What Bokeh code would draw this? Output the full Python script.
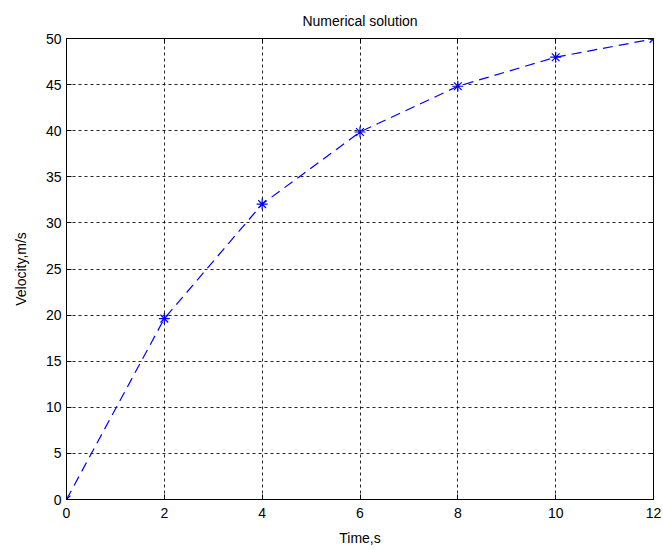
from bokeh.plotting import figure
from bokeh.models import LinearAxis, FixedTicker, Range1d
from bokeh.embed import file_html
from bokeh.resources import INLINE

time_s = [0, 2, 4, 6, 8, 10, 12]
velocity = [0, 19.62, 32.04, 39.86, 44.82, 47.97, 49.96]
x_ticks = [0, 2, 4, 6, 8, 10, 12]
y_ticks = [0, 5, 10, 15, 20, 25, 30, 35, 40, 45, 50]

FONT = "Liberation Sans"

p = figure(width=663, height=550, output_backend="svg", toolbar_location=None,
           x_range=Range1d(0, 12), y_range=Range1d(0, 50),
           min_border_left=66, min_border_right=10, min_border_top=38, min_border_bottom=51,
           title="Numerical solution")
p.title.text_font = FONT
p.title.text_font_size = "14px"
p.title.text_font_style = "normal"
p.title.align = "center"
p.title.text_color = "#000000"
p.title.offset = 0
p.title.standoff = 19

p.line(time_s, velocity, line_color="#0000FF", line_width=1.2, line_dash="10 6")
p.scatter(time_s, velocity, marker="asterisk", size=11, line_color="#0000FF", line_width=1.2)

for ax in (p.xaxis[0], p.yaxis[0]):
    ax.major_tick_in = 5
    ax.major_tick_out = 0
    ax.minor_tick_in = 0
    ax.minor_tick_out = 0
    ax.axis_line_color = "#000000"
    ax.major_tick_line_color = "#000000"
    ax.major_label_text_font = FONT
    ax.major_label_text_font_size = "14px"
    ax.major_label_text_color = "#000000"
    ax.axis_label_text_font = FONT
    ax.axis_label_text_font_size = "14px"
    ax.axis_label_text_font_style = "normal"
    ax.axis_label_text_color = "#000000"

p.xaxis[0].major_label_standoff = 8
p.xaxis[0].axis_label_standoff = 9
p.yaxis[0].major_label_standoff = 5
p.yaxis[0].axis_label_standoff = 14

p.xaxis[0].ticker = FixedTicker(ticks=x_ticks)
p.yaxis[0].ticker = FixedTicker(ticks=y_ticks)
p.xaxis[0].axis_label = "Time,s"
p.yaxis[0].axis_label = "Velocity,m/s"

for loc, ticks in (("right", y_ticks), ("above", x_ticks)):
    ax = LinearAxis(ticker=FixedTicker(ticks=ticks))
    ax.major_label_text_font_size = "0px"
    ax.major_label_text_alpha = 0
    ax.major_tick_in = 5
    ax.major_tick_out = 0
    ax.minor_tick_in = 0
    ax.minor_tick_out = 0
    ax.axis_line_color = "#000000"
    ax.major_tick_line_color = "#000000"
    ax.major_label_standoff = 0
    p.add_layout(ax, loc)

p.xgrid.ticker = FixedTicker(ticks=x_ticks)
p.ygrid.ticker = FixedTicker(ticks=y_ticks)
for g in (p.xgrid[0], p.ygrid[0]):
    g.grid_line_color = "#000000"
    g.grid_line_dash = "3 3"
    g.grid_line_alpha = 0.85
    g.grid_line_width = 1

p.outline_line_color = "#000000"
p.background_fill_color = "#ffffff"
p.border_fill_color = "#ffffff"

open("out.html", "w").write(file_html(p, INLINE))
